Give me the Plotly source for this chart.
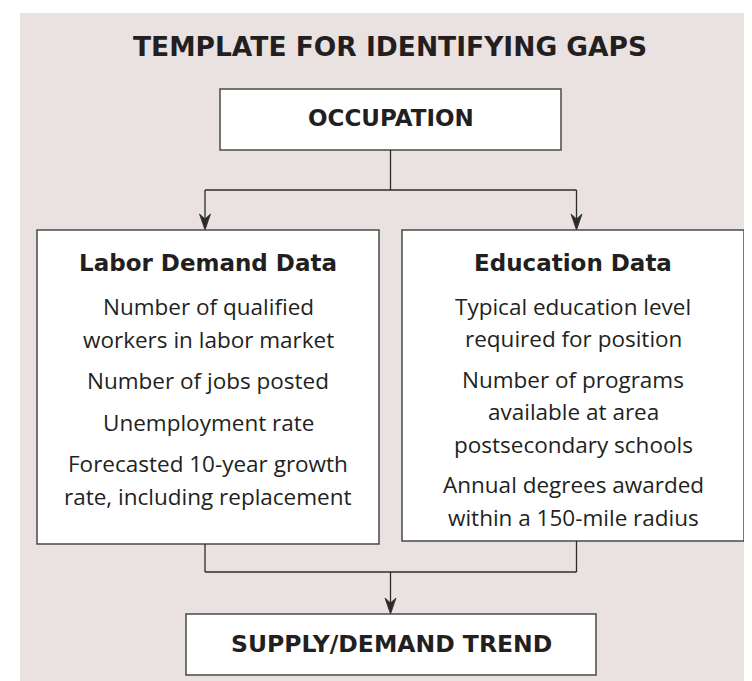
import plotly.graph_objects as go

# ---- content ----
title_text = "TEMPLATE FOR IDENTIFYING GAPS"
top_label = "OCCUPATION"
left_header = "Labor Demand Data"
left_items = [
    ["Number of qualified", "workers in labor market"],
    ["Number of jobs posted"],
    ["Unemployment rate"],
    ["Forecasted 10-year growth", "rate, including replacement"],
]
right_header = "Education Data"
right_items = [
    ["Typical education level", "required for position"],
    ["Number of programs", "available at area", "postsecondary schools"],
    ["Annual degrees awarded", "within a 150-mile radius"],
]
bottom_label = "SUPPLY/DEMAND TREND"

# ---- styling / layout ----
W, H = 752, 681
BG = "#EAE1E1"
TXT = "#231F20"
BORDER = "#4a4a4a"
LINE = "#2b2b2b"
HEAD_FONT = "'DejaVu Sans', 'Open Sans', sans-serif"
BODY_FONT = "'Open Sans', Lato, sans-serif"

fig = go.Figure()
shapes = []
ann = []

# background panel
shapes.append(dict(type="rect", x0=12, x1=W, y0=5, y1=H, fillcolor=BG, line=dict(width=0), layer="below"))

def box(x0, x1, y0, y1):
    shapes.append(dict(type="rect", x0=x0, x1=x1, y0=y0, y1=y1, fillcolor="white",
                       line=dict(color=BORDER, width=1.5)))

def seg(x0, y0, x1, y1):
    shapes.append(dict(type="line", x0=x0, y0=y0, x1=x1, y1=y1, line=dict(color=LINE, width=1.3)))

def arrowhead(x, y):
    shapes.append(dict(type="path",
                       path=f"M {x},{y} L {x-5.5},{y-16} L {x},{y-11} L {x+5.5},{y-16} Z",
                       fillcolor=LINE, line=dict(color=LINE, width=0.8)))

def text(x, y, s, size, family, bold=False):
    ann.append(dict(x=x, y=y, text=f"<b>{s}</b>" if bold else s, showarrow=False,
                    xanchor="center", yanchor="middle",
                    font=dict(size=size, family=family, color=TXT)))

# title
text(382, 38, title_text, 26.5, HEAD_FONT, bold=True)

# top box
box(212, 553, 81, 142)
text(382.5, 110, top_label, 23, HEAD_FONT, bold=True)

# connectors top
seg(382.5, 142, 382.5, 182)
seg(197, 182, 568.5, 182)
seg(197, 182, 197, 220)
seg(568.5, 182, 568.5, 220)
arrowhead(197, 222)
arrowhead(568.5, 222)

# middle boxes
box(29, 371, 222, 536)
box(394, 736, 222, 533)

def fill(cx, header, items, y_start, line_h, gap):
    text(cx, 255, header, 23, HEAD_FONT, bold=True)
    y = y_start
    for item in items:
        for j, ln in enumerate(item):
            text(cx, y, ln, 22.5, BODY_FONT)
            if j < len(item) - 1:
                y += line_h
        y += gap

fill(200, left_header, left_items, 298, 33, 41.5)
fill(565, right_header, right_items, 298, 32.5, 40.5)

# connectors bottom
seg(197, 536, 197, 564)
seg(568.5, 533, 568.5, 564)
seg(197, 564, 568.5, 564)
seg(382.5, 564, 382.5, 603)
arrowhead(382.5, 606)

# bottom box
box(178, 588, 606, 667)
text(383, 636, bottom_label, 23.5, HEAD_FONT, bold=True)

fig.update_layout(
    width=W, height=H, margin=dict(l=0, r=0, t=0, b=0),
    paper_bgcolor="white", plot_bgcolor="white",
    xaxis=dict(range=[0, W], visible=False, fixedrange=True),
    yaxis=dict(range=[H, 0], visible=False, fixedrange=True),
    shapes=shapes, annotations=ann, showlegend=False,
)
fig.write_html("out.html")
